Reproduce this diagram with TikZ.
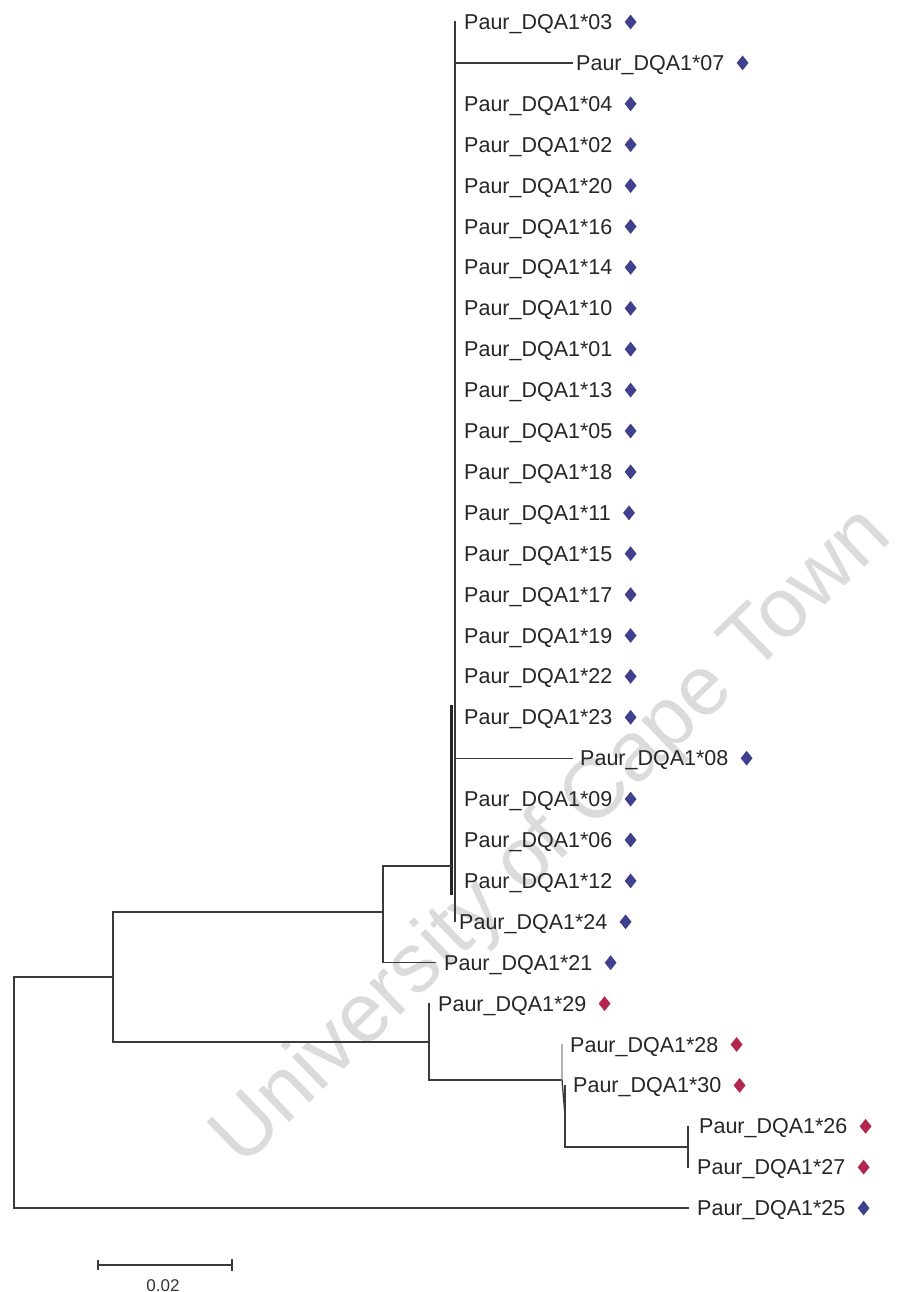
\documentclass[tikz,border=0pt]{standalone}
\usepackage{fontspec}
\setmainfont{Liberation Sans}
\usetikzlibrary{shapes.geometric}
\definecolor{dblue}{HTML}{40408E}
\definecolor{dred}{HTML}{B3264E}
\definecolor{lncol}{HTML}{3A3A3A}
\begin{document}
\begin{tikzpicture}[x=1pt,y=-1pt,
  br/.style={draw=lncol, line width=1.3pt, line cap=rect},
  tip/.style={anchor=west, inner sep=0pt, text height=15pt, text depth=0pt,
              font=\fontsize{21.5}{22}\selectfont, text=black!85},
  mk/.style={diamond, fill=#1, draw=none, inner sep=0pt,
             minimum width=12pt, minimum height=15pt},
  wm/.style={font=\fontsize{84}{84}\selectfont, text=black!14, rotate=44}]
\useasboundingbox (0,0) rectangle (916,1292);
\fill[white] (0,0) rectangle (916,1292);
% watermark
\node[wm] (water) at (553,838) {University of Cape Town};

% ---- tips of the main clade (zero-length branches)
\foreach \n/\i in {03/0,04/2,02/3,20/4,16/5,14/6,10/7,01/8,13/9,05/10,18/11,11/12,15/13,17/14,19/15,22/16,23/17,09/19,06/20,12/21} {
  \node[tip] (t\n) at ({464},{22+40.9*\i}) {Paur\_DQA1*\n};
  \node[mk=dblue] (d\n) at ([xshift=18pt]t\n.east) {};
}
\node[tip] (t24) at (459,921.8) {Paur\_DQA1*24};
\node[mk=dblue] (d24) at ([xshift=18pt]t24.east) {};

% tips with own branches
\node[tip] (t07) at (576,62.9) {Paur\_DQA1*07};
\node[mk=dblue] (d07) at ([xshift=18pt]t07.east) {};
\node[tip] (t08) at (580,758.2) {Paur\_DQA1*08};
\node[mk=dblue] (d08) at ([xshift=18pt]t08.east) {};
\node[tip] (t21) at (444,962.7) {Paur\_DQA1*21};
\node[mk=dblue] (d21) at ([xshift=18pt]t21.east) {};
\node[tip] (t29) at (438,1003.6) {Paur\_DQA1*29};
\node[mk=dred] (d29) at ([xshift=18pt]t29.east) {};
\node[tip] (t28) at (570,1044.5) {Paur\_DQA1*28};
\node[mk=dred] (d28) at ([xshift=18pt]t28.east) {};
\node[tip] (t30) at (573,1085.4) {Paur\_DQA1*30};
\node[mk=dred] (d30) at ([xshift=18pt]t30.east) {};
\node[tip] (t26) at (699,1126.3) {Paur\_DQA1*26};
\node[mk=dred] (d26) at ([xshift=18pt]t26.east) {};
\node[tip] (t27) at (697,1167.2) {Paur\_DQA1*27};
\node[mk=dred] (d27) at ([xshift=18pt]t27.east) {};
\node[tip] (t25) at (697,1208.1) {Paur\_DQA1*25};
\node[mk=dblue] (d25) at ([xshift=18pt]t25.east) {};

% ---- internal nodes
\coordinate (R) at (14,977);
\coordinate (A) at (113,977);
\coordinate (B) at (383,912);
\coordinate (M) at (451,866);
\coordinate (C) at (429,1042);
\coordinate (D) at (562,1080);
\coordinate (E) at (565,1116);
\coordinate (F) at (688,1147);
\coordinate (mtop) at (455,22);
\coordinate (mbot) at (455,921.8);

% ---- branch ends
\coordinate (e07) at (572,62.9);
\coordinate (e08) at (572,758.2);
\coordinate (e21) at (435,962.7);
\coordinate (e29) at (429,1003.6);
\coordinate (e28) at (562,1044.5);
\coordinate (e30) at (565,1085.4);
\coordinate (e26) at (688,1126.3);
\coordinate (e27) at (688,1167.2);
\coordinate (e25) at (688,1208.1);

% ---- branches
\draw[br] (mtop) -- (mbot);
\draw[line width=3pt, draw=black!85] (451,705) -- (451,895);
\draw[br] (mtop |- e07) -- (e07);
\draw[br] (mtop |- e08) -- (e08);
\draw[br] (B) |- (M);
\draw[br] (B) |- (e21);
\draw[br] (A) |- (B);
\draw[br] (A) |- (C);
\draw[br] (R) -- (A);
\draw[br] (R) |- (e25);
\draw[br] (C) -- (e29);
\draw[br] (C) |- (D);
\draw[br, draw=black!30] (D) -- (e28);
\draw[br] (D) -- (E);
\draw[br] (E) -- (e30);
\draw[br] (E) |- (F);
\draw[br] (F) -- (e26);
\draw[br] (F) -- (e27);

% ---- scale bar
\coordinate (s1) at (98,1265);
\coordinate (s2) at (232,1265);
\draw[br] (s1) -- (s2);
\draw[br] ([yshift=4pt]s1) -- ([yshift=-4pt]s1);
\draw[br] ([yshift=5pt]s2) -- ([yshift=-5pt]s2);
\node[font=\fontsize{17}{17}\selectfont, text=black!80, anchor=base] (sl) at (163,1291) {0.02};
\end{tikzpicture}
\end{document}
